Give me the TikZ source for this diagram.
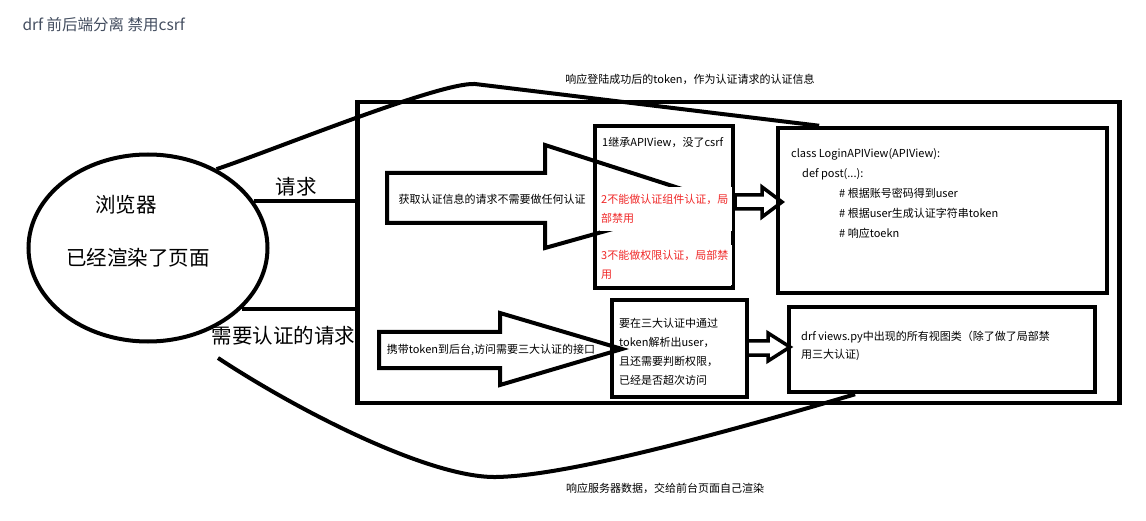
\documentclass[tikz,border=0pt]{standalone}
\usepackage{fontspec}
\setmainfont{Noto Sans CJK SC}
\usetikzlibrary{calc,shapes.geometric,positioning}
\definecolor{drfgrau}{RGB}{68,78,96}
\definecolor{drfrot}{RGB}{240,40,40}

\begin{document}
\begin{tikzpicture}[x=1pt, y=-1pt,
			box/.style={rectangle, draw, line width=4.5pt, inner sep=0pt},
			txt/.style={font=\fontsize{11}{19}\selectfont, align=left, inner sep=1pt},
			rottxt/.style={txt, text=drfrot, fill=white, text width=130pt, anchor=north west},
			bigtxt/.style={font=\fontsize{20.5}{24}\selectfont, inner sep=0pt},
			pfeil/.style={draw, line width=4pt},
			lnk/.style={line width=4.5pt}]

			\useasboundingbox (0,0) rectangle (1146,521);

			% Title
			\node[anchor=west, text=drfgrau, font=\fontsize{15.5}{18}\selectfont] (titel) at (19,25) {drf 前后端分离 禁用csrf};

			% Browser
			\node[ellipse, draw, line width=4pt, minimum width=239pt, minimum height=187pt, inner sep=0pt] (browser) at (148,248) {};
			\node[bigtxt] (liulanqi) at (126,205) {浏览器};
			\node[bigtxt] (xuanran) at (138,258) {已经渲染了页面};

			% Server side
			\node[box, minimum width=762pt, minimum height=301pt] (server) at (738.5,252.5) {};
			\node[box, minimum width=138pt, minimum height=162pt] (apiview) at (664,207) {};
			\node[box, minimum width=329pt, minimum height=165pt] (login) at (942.5,210.5) {};
			\node[box, minimum width=135pt, minimum height=97pt] (auth) at (679.5,348.5) {};
			\node[box, minimum width=306pt, minimum height=85pt] (views) at (942,349.5) {};

			% Block arrows
			\draw[pfeil] (387,173) -- (545,173) -- (545,145) -- (716,200) -- (545,248) -- (545,223) -- (387,223) -- cycle;
			\draw[pfeil] (379,332) -- (500,332) -- (500,313) -- (622,349) -- (500,385) -- (500,368) -- (379,368) -- cycle;
			\draw[pfeil, line width=3.5pt] (735,195) -- (762,195) -- (762,187) -- (782,202) -- (762,217) -- (762,209) -- (735,209) -- cycle;
			\draw[pfeil, line width=3.5pt] (747,341) -- (768,341) -- (768,333) -- (790,347) -- (768,361) -- (768,355) -- (747,355) -- cycle;

			% Texts
			\node[txt] (anmelden) at (492,199) {获取认证信息的请求不需要做任何认证};
			\node[txt] (tragen) at (491,350) {携带token到后台,访问需要三大认证的接口};
			\node[txt, anchor=west] (regel1) at (601,142) {1继承APIView，没了csrf};
			\node[rottxt, minimum height=44pt] (regel2) at (600,187) {2不能做认证组件认证，局\\部禁用};
			\node[rottxt, minimum height=40pt] (regel3) at (600,245) {3不能做权限认证，局部禁\\用};
			\node[txt, anchor=north west, font=\fontsize{11}{20}\selectfont] (logintxt) at (790,147)
				{class LoginAPIView(APIView):\\\hspace*{11pt}def post(...):\\\hspace*{48pt}\# 根据账号密码得到user\\\hspace*{48pt}\# 根据user生成认证字符串token\\\hspace*{48pt}\# 响应toekn};
			\node[txt, anchor=north west] (authtxt) at (618,317) {要在三大认证中通过\\token解析出user，\\且还需要判断权限，\\已经是否超次访问};
			\node[txt, anchor=north west, font=\fontsize{11}{18}\selectfont] (viewstxt) at (800,330) {drf views.py中出现的所有视图类（除了做了局部禁\\用三大认证)};

			% Connectors
			\draw[lnk] (browser.24) -- (browser.24 -| server.west) node[bigtxt, pos=0.42, above=3pt] (qingqiu) {请求};
			\draw[lnk] (browser.-33) -- (browser.-33 -| server.west) node[bigtxt, pos=0.37, below=15pt] (renzheng) {需要认证的请求};
			\draw[lnk, line width=4pt] (browser.49) .. controls (279,148) and (440,82) .. (475,84) -- ($(login.north west)!0.13!(login.north east)$);
			\coordinate (unten) at (218,358);
			\draw[lnk, line width=4pt] (unten) .. controls (300,412) and (430,478) .. (496,477) .. controls (562,476) and (700,440) .. ($(views.south west)!0.22!(views.south east)$);
			\node[txt] (antwort1) at (690,79) {响应登陆成功后的token，作为认证请求的认证信息};
			\node[txt] (antwort2) at (665,488) {响应服务器数据，交给前台页面自己渲染};
		\end{tikzpicture}
\end{document}
